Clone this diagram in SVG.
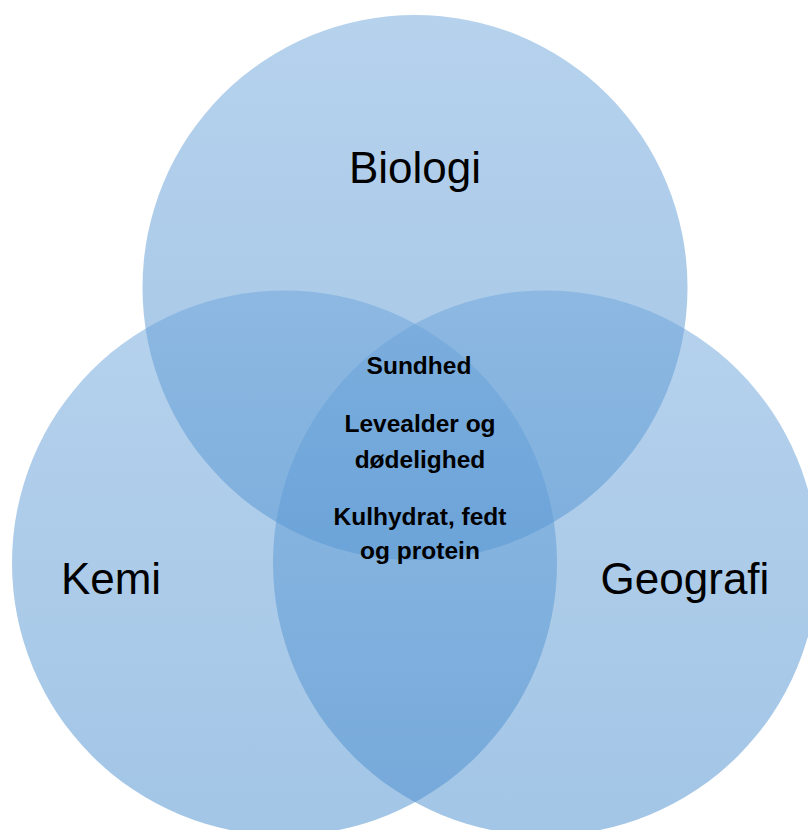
<svg xmlns="http://www.w3.org/2000/svg" width="808" height="830" viewBox="0 0 808 830">
<defs>
<linearGradient id="g" x1="0" y1="0" x2="0" y2="1">
<stop offset="0" stop-color="#6da5db"/>
<stop offset="1" stop-color="#478ccd"/>
</linearGradient>
<style>
.c{fill:url(#g);fill-opacity:0.5}
.lbl{font-family:"Liberation Sans",Arial,sans-serif;font-size:44px;fill:#000;text-anchor:middle}
.in{font-family:"Liberation Sans",Arial,sans-serif;font-size:24.5px;font-weight:bold;fill:#000;text-anchor:middle}
</style>
</defs>
<rect width="808" height="830" fill="#fff"/>
<g id="biologi"><circle class="c" cx="415" cy="287.5" r="272.5"/></g>
<g id="kemi"><circle class="c" cx="284.5" cy="563" r="272.5"/></g>
<g id="geografi"><circle class="c" cx="545.5" cy="563" r="272.5"/></g>
<g id="labels">
<text class="lbl" x="415" y="183">Biologi</text>
<text class="lbl" x="111" y="594">Kemi</text>
<text class="lbl" x="685" y="594">Geografi</text>
</g>
<g id="center">
<text class="in" x="419" y="374">Sundhed</text>
<text class="in" x="420" y="432">Levealder og</text>
<text class="in" x="420" y="468">dødelighed</text>
<text class="in" x="420" y="525">Kulhydrat, fedt</text>
<text class="in" x="420" y="559">og protein</text>
</g>
<g id="connectors"/>
</svg>
